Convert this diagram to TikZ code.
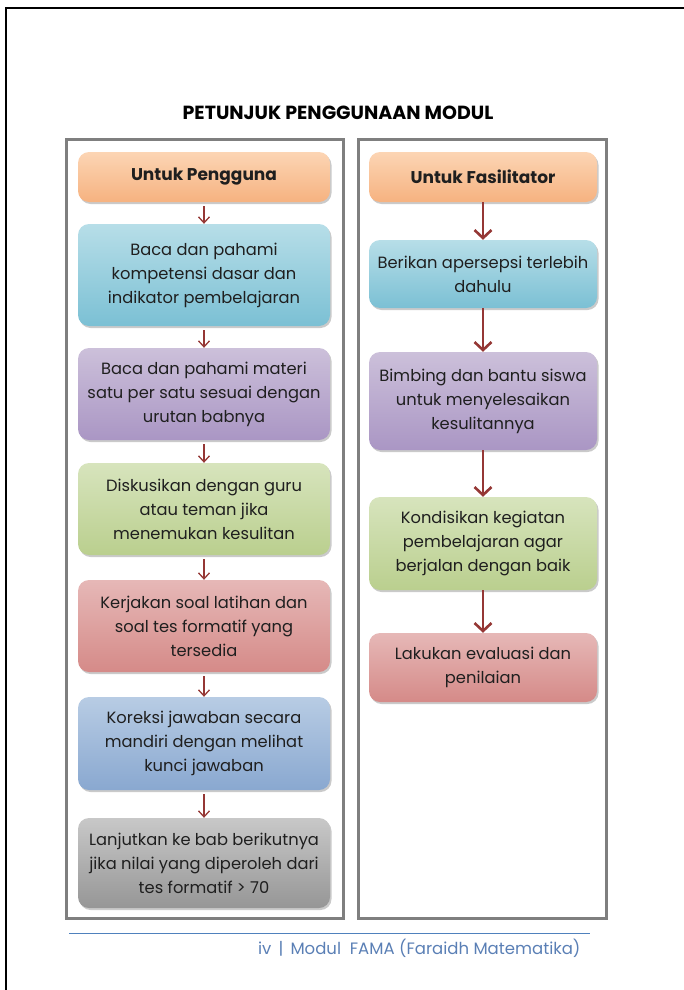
\documentclass[tikz,border=0pt]{standalone}
\usepackage{fontspec}
\setmainfont{Poppins}
\usetikzlibrary{shadows,arrows.meta}
\definecolor{txt}{HTML}{1F1F1F}
\definecolor{arr}{HTML}{953735}
\definecolor{frame}{HTML}{7F7F7F}
\definecolor{foot}{HTML}{4F81BD}
\definecolor{foottxt}{HTML}{5A7FB5}
\tikzset{
  box/.style={rounded corners=11pt, minimum width=#1, align=center, text=txt,
    font=\fontsize{16.3}{24}\selectfont, inner sep=0pt,
    drop shadow={shadow xshift=1.5pt, shadow yshift=-2pt, opacity=0.35, fill=black!60}},
  c-orange/.style={top color={rgb,255:red,252;green,213;blue,180}, bottom color={rgb,255:red,246;green,178;blue,128}},
  c-blue/.style={top color={rgb,255:red,183;green,222;blue,232}, bottom color={rgb,255:red,123;green,192;blue,212}},
  c-purple/.style={top color={rgb,255:red,204;green,192;blue,218}, bottom color={rgb,255:red,170;green,150;blue,196}},
  c-green/.style={top color={rgb,255:red,215;green,228;blue,189}, bottom color={rgb,255:red,186;green,207;blue,142}},
  c-red/.style={top color={rgb,255:red,230;green,184;blue,183}, bottom color={rgb,255:red,213;green,138;blue,136}},
  c-blue2/.style={top color={rgb,255:red,184;green,204;blue,228}, bottom color={rgb,255:red,137;green,168;blue,208}},
  c-gray/.style={top color={rgb,255:red,200;green,200;blue,200}, bottom color={rgb,255:red,150;green,150;blue,150}},
  smallarr/.style={draw=arr, line width=1.3pt, -{Straight Barb[length=6pt,width=11pt]}},
  bigarr/.style={draw=arr, line width=2.6pt, -{Straight Barb[length=8pt,width=17pt,line width=2.6pt]}},
  outer/.style={draw=frame, line width=3pt},
  head/.style={font=\fontsize{17}{20}\selectfont\bfseries}
}
\begin{document}
\begin{tikzpicture}[x=1pt,y=-1pt]
\useasboundingbox (0,0) rectangle (684,990);
% page border
\draw[black, line width=1.5pt] (6,990) -- (6,8) -- (684,8);
% title
\node[font=\fontsize{19}{22}\selectfont\bfseries, text=black] (title) at (338,113) {PETUNJUK PENGGUNAAN MODUL};
% outer frames
\draw[outer] (66,139) rectangle (343,918);
\draw[outer] (358,139) rectangle (606,918);
% left column
\node[box=252pt, c-orange, minimum height=50pt, head] (l0) at (204,177) {Untuk Pengguna};
\node[box=252pt, c-blue, minimum height=102pt] (l1) at (204,275) {Baca dan pahami\\kompetensi dasar dan\\indikator pembelajaran};
\node[box=252pt, c-purple, minimum height=92pt] (l2) at (204,394) {Baca dan pahami materi\\satu per satu sesuai dengan\\urutan babnya};
\node[box=252pt, c-green, minimum height=92pt] (l3) at (204,509) {Diskusikan dengan guru\\atau teman jika\\menemukan kesulitan};
\node[box=252pt, c-red, minimum height=92pt] (l4) at (204,626) {Kerjakan soal latihan dan\\soal tes formatif yang\\tersedia};
\node[box=252pt, c-blue2, minimum height=93pt] (l5) at (204,743.5) {Koreksi jawaban secara\\mandiri dengan melihat\\kunci jawaban};
\node[box=252pt, c-gray, minimum height=90pt] (l6) at (204,863) {Lanjutkan ke bab berikutnya\\jika nilai yang diperoleh dari\\tes formatif > 70};
\foreach \a/\b in {l0/l1,l1/l2,l2/l3,l3/l4,l4/l5,l5/l6}
  \draw[smallarr] (\a.south) ++(0,4) -- (\b.north);
% right column
\node[box=228pt, c-orange, minimum height=50pt, head] (r0) at (483,177) {Untuk Fasilitator};
\node[box=228pt, c-blue, minimum height=68pt] (r1) at (483,274) {Berikan apersepsi terlebih\\dahulu};
\node[box=228pt, c-purple, minimum height=98pt] (r2) at (483,401) {Bimbing dan bantu siswa\\untuk menyelesaikan\\kesulitannya};
\node[box=228pt, c-green, minimum height=93pt] (r3) at (483,543.5) {Kondisikan kegiatan\\pembelajaran agar\\berjalan dengan baik};
\node[box=228pt, c-red, minimum height=69pt] (r4) at (483,667.5) {Lakukan evaluasi dan\\penilaian};
\foreach \a/\b in {r0/r1,r1/r2,r2/r3,r3/r4}
  \draw[bigarr] (\a.south) -- (\b.north);
% footer
\draw[foot, line width=1pt] (69,933) coordinate (fl) -- (590,933) coordinate (fr);
\node[anchor=east, text=foottxt, font=\fontsize{16.5}{18}\selectfont] (footer) at (584,948) {iv \,|\, Modul\ \ FAMA (Faraidh Matematika)};
\end{tikzpicture}
\end{document}
